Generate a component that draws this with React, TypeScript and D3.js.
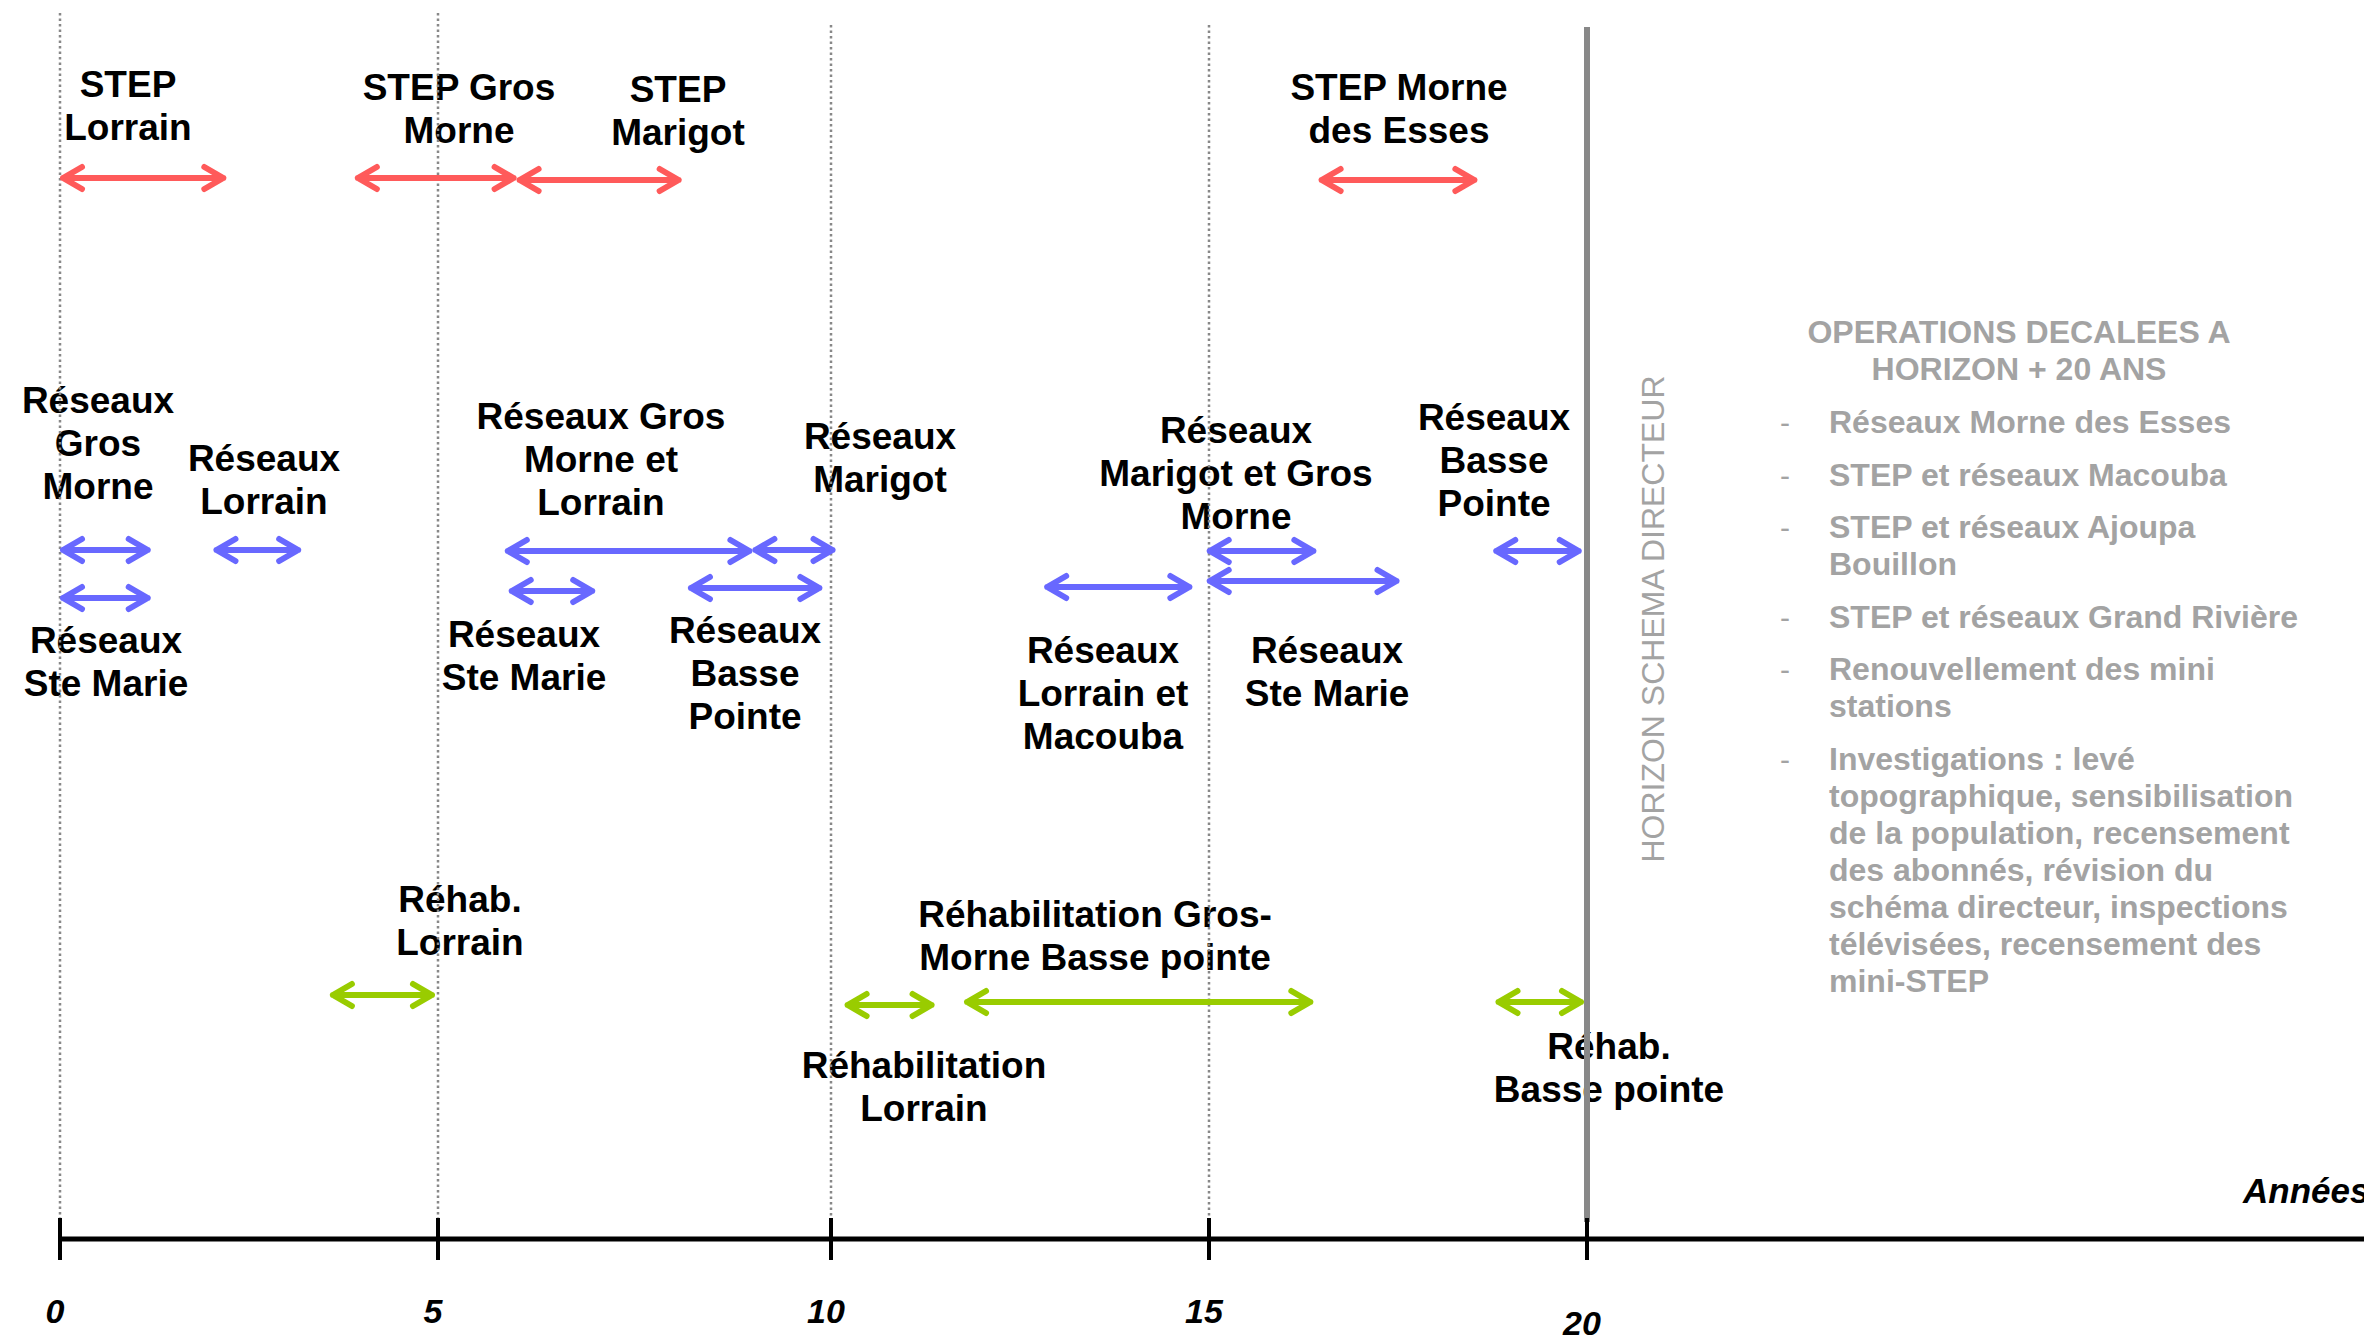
import React from "react";
import * as d3 from "d3";

// ---------- DATA ----------
const tickYears = [0, 5, 10, 15, 20];
const tickLabels = ["0", "5", "10", "15", "20"];
const axisTitle = "Années";
const horizonLabel = "HORIZON SCHEMA DIRECTEUR";

const stepLabels = ["STEP\nLorrain", "STEP Gros\nMorne", "STEP\nMarigot", "STEP Morne\ndes Esses"];
const stepStart = [0, 3.9, 6.0, 16.45];
const stepEnd = [2.2, 6.0, 8.1, 18.55];

const reseauxLabels = [
  "Réseaux\nGros\nMorne",
  "Réseaux\nSte Marie",
  "Réseaux\nLorrain",
  "Réseaux Gros\nMorne et\nLorrain",
  "Réseaux\nMarigot",
  "Réseaux\nSte Marie",
  "Réseaux\nBasse\nPointe",
  "Réseaux\nLorrain et\nMacouba",
  "Réseaux\nMarigot et Gros\nMorne",
  "Réseaux\nSte Marie",
  "Réseaux\nBasse\nPointe",
];
const reseauxStart = [0, 0, 2.03, 5.85, 9.0, 5.9, 8.18, 12.82, 14.97, 14.97, 18.76];
const reseauxEnd = [1.2, 1.2, 3.19, 9.0, 10.06, 7.0, 9.89, 14.78, 16.42, 17.52, 19.93];

const rehabLabels = [
  "Réhab.\nLorrain",
  "Réhabilitation\nLorrain",
  "Réhabilitation Gros-\nMorne Basse pointe",
  "Réhab.\nBasse pointe",
];
const rehabStart = [3.57, 10.18, 11.76, 18.79];
const rehabEnd = [4.96, 11.37, 16.38, 19.96];

const deferredTitle = ["OPERATIONS DECALEES A", "HORIZON + 20 ANS"];
const deferredItems = [
  ["Réseaux Morne des Esses"],
  ["STEP et réseaux Macouba"],
  ["STEP et réseaux Ajoupa", "Bouillon"],
  ["STEP et réseaux Grand Rivière"],
  ["Renouvellement des mini", "stations"],
  [
    "Investigations : levé",
    "topographique, sensibilisation",
    "de la population, recensement",
    "des abonnés, révision du",
    "schéma directeur, inspections",
    "télévisées, recensement des",
    "mini-STEP",
  ],
];

// ---------- LAYOUT (pixels) ----------
const W = 2364;
const H = 1342;
const X_RANGE = [60, 438, 831, 1209, 1587];
const AXIS_Y = 1239;
// [arrow y, label center x, label first baseline]
const stepLayout = [
  [178, 128, 97],
  [178, 459, 100],
  [180, 678, 102],
  [180, 1399, 100],
];
const reseauxLayout = [
  [550, 98, 413],
  [598, 106, 653],
  [550, 264, 471],
  [551, 601, 429],
  [550, 880, 449],
  [591, 524, 647],
  [588, 745, 643],
  [587, 1103, 663],
  [551, 1236, 443],
  [581, 1327, 663],
  [551, 1494, 430],
];
const rehabLayout = [
  [995, 460, 912],
  [1005, 924, 1078],
  [1002, 1095, 927],
  [1002, 1609, 1059],
];

const RED = "#ff5a5a";
const BLUE = "#6868ff";
const GREEN = "#99cc00";
const GREY_TXT = "#a3a3a3";
const FONT = "'Liberation Sans', Arial, Helvetica, sans-serif";

const x = d3.scaleLinear().domain(tickYears).range(X_RANGE);

function arrowPath(x1: number, x2: number, y: number) {
  const hw = 19;
  const hh = 11;
  const a = x1 + 3;
  const b = x2 - 3;
  const p = d3.path();
  p.moveTo(a, y);
  p.lineTo(b, y);
  p.moveTo(a + hw, y - hh);
  p.lineTo(a, y);
  p.lineTo(a + hw, y + hh);
  p.moveTo(b - hw, y - hh);
  p.lineTo(b, y);
  p.lineTo(b - hw, y + hh);
  return p.toString();
}

function Label({ text, cx, y0, lh = 43 }: { text: string; cx: number; y0: number; lh?: number }) {
  const lines = text.split("\n");
  return (
    <text fontFamily={FONT} fontWeight="bold" fontSize={37} fill="#000" textAnchor="middle">
      {lines.map((l, i) => (
        <tspan key={i} x={cx} y={y0 + i * lh}>
          {l}
        </tspan>
      ))}
    </text>
  );
}

function Labels({ labels, layout }: { labels: string[]; layout: number[][] }) {
  return (
    <g>
      {labels.map((lab, i) => (
        <Label key={"l" + i} text={lab} cx={layout[i][1]} y0={layout[i][2]} />
      ))}
    </g>
  );
}

function Arrows({
  starts,
  ends,
  layout,
  color,
}: {
  starts: number[];
  ends: number[];
  layout: number[][];
  color: string;
}) {
  return (
    <g>
      {starts.map((s, i) => (
        <path
          key={i}
          d={arrowPath(x(s), x(ends[i]), layout[i][0])}
          fill="none"
          stroke={color}
          strokeWidth={6}
          strokeLinecap="round"
          strokeLinejoin="round"
        />
      ))}
    </g>
  );
}

export default function App() {
  const gridTops = [13, 13, 25, 25];
  const listLines: { t: string; y: number; dash: boolean }[] = [];
  let y = 433;
  deferredItems.forEach((item) => {
    item.forEach((t, j) => {
      listLines.push({ t, y, dash: j === 0 });
      y += j < item.length - 1 ? 37 : 0;
    });
    y += 52.5;
  });

  return (
    <svg
      width={W}
      height={H}
      viewBox={`0 0 ${W} ${H}`}
      style={{ position: "absolute", left: 0, top: 0, display: "block", background: "#fff" }}
    >
      <rect x={0} y={0} width={W} height={H} fill="#fff" />

      {/* labels */}
      <Labels labels={stepLabels} layout={stepLayout} />
      <Labels labels={reseauxLabels} layout={reseauxLayout} />
      <Labels labels={rehabLabels} layout={rehabLayout} />

      {/* dotted gridlines */}
      {tickYears.slice(0, 4).map((t, i) => (
        <line
          key={t}
          x1={x(t)}
          x2={x(t)}
          y1={gridTops[i]}
          y2={1218}
          stroke="#888"
          strokeWidth={2.5}
          strokeDasharray="2.5 3"
        />
      ))}

      {/* horizon line */}
      <line x1={x(20)} x2={x(20)} y1={27} y2={1222} stroke="#888" strokeWidth={6} />

      {/* arrows */}
      <Arrows starts={stepStart} ends={stepEnd} layout={stepLayout} color={RED} />
      <Arrows starts={reseauxStart} ends={reseauxEnd} layout={reseauxLayout} color={BLUE} />
      <Arrows starts={rehabStart} ends={rehabEnd} layout={rehabLayout} color={GREEN} />

      {/* horizon vertical label */}
      <text
        transform={`translate(1664, 619) rotate(-90)`}
        fontFamily={FONT}
        fontSize={32}
        fill={GREY_TXT}
        textAnchor="middle"
      >
        {horizonLabel}
      </text>

      {/* deferred operations block */}
      <text fontFamily={FONT} fontWeight="bold" fontSize={32} fill={GREY_TXT} textAnchor="middle">
        {deferredTitle.map((t, i) => (
          <tspan key={i} x={2019} y={343 + i * 37}>
            {t}
          </tspan>
        ))}
      </text>
      {listLines.map((l, i) => (
        <g key={i}>
          {l.dash && (
            <text x={1785} y={l.y} fontFamily={FONT} fontSize={30} fill={GREY_TXT} textAnchor="middle">
              -
            </text>
          )}
          <text x={1829} y={l.y} fontFamily={FONT} fontWeight="bold" fontSize={32} fill={GREY_TXT}>
            {l.t}
          </text>
        </g>
      ))}

      {/* axis */}
      <line x1={x(0)} x2={W} y1={AXIS_Y} y2={AXIS_Y} stroke="#000" strokeWidth={5} />
      {tickYears.map((t) => (
        <line key={t} x1={x(t)} x2={x(t)} y1={1218} y2={1260} stroke="#000" strokeWidth={4} />
      ))}
      {tickYears.map((t, i) => (
        <text
          key={t}
          x={x(t) - 5}
          y={t === 20 ? 1335 : 1323}
          fontFamily={FONT}
          fontWeight="bold"
          fontStyle="italic"
          fontSize={34}
          fill="#000"
          textAnchor="middle"
        >
          {tickLabels[i]}
        </text>
      ))}
      <text x={2243} y={1203} fontFamily={FONT} fontWeight="bold" fontStyle="italic" fontSize={35} fill="#000">
        {axisTitle}
      </text>
    </svg>
  );
}
